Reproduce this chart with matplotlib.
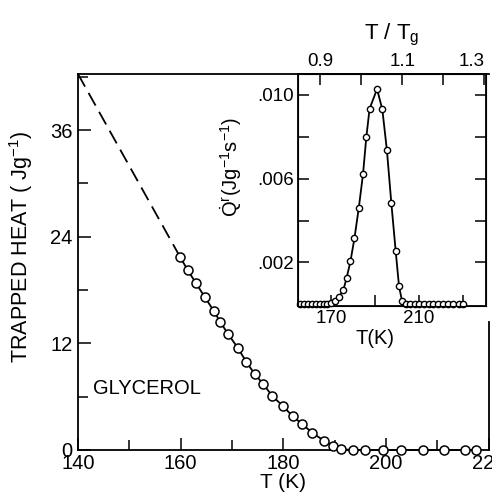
import numpy as np
import matplotlib.pyplot as plt
from matplotlib.ticker import MultipleLocator

plt.rcParams['font.family'] = ['Liberation Sans', 'DejaVu Sans']
plt.rcParams['mathtext.fontset'] = 'custom'
plt.rcParams['mathtext.rm'] = 'Liberation Sans'
plt.rcParams['mathtext.it'] = 'Liberation Sans'

# trapped heat vs temperature (main panel)
temp_main = [159.9, 161.4, 163.0, 164.7, 166.5, 167.7, 169.3, 171.1, 172.8, 174.4,
             176.1, 177.8, 179.9, 181.8, 183.7, 185.6, 188.0, 189.7, 191.2, 193.6,
             195.8, 199.4, 202.9, 207.1, 211.3, 215.3, 217.6]
heat_main = [21.7, 20.2, 18.75, 17.2, 15.6, 14.4, 13.0, 11.5, 9.9, 8.55,
             7.4, 6.1, 4.95, 3.8, 2.9, 1.95, 1.0, 0.45, 0.08, 0.0,
             0.0, 0.0, 0.0, 0.0, 0.0, 0.0, 0.0]
# dashed extrapolation to low temperature
temp_extrap = [140.0, 159.9]
heat_extrap = [42.3, 21.7]

# heat release rate (inset)
temp_inset = [155.8, 157.7, 159.5, 161.3, 163.2, 165.0, 166.8, 168.3, 169.9, 171.7,
              173.5, 175.6, 177.0, 178.8, 180.6, 182.6, 184.5, 186.0, 187.5, 190.9,
              193.3, 195.4, 197.4, 199.4, 200.9, 202.3, 203.9, 206.1, 208.0, 210.2,
              212.3, 214.4, 216.6, 218.7, 221.0, 223.4, 225.7, 228.0, 230.1]
rate_inset = [0.0, 0.0, 0.0, 0.0, 0.0, 0.0, 0.0, 0.0, 0.00006, 0.00015,
              0.00035, 0.0007, 0.00124, 0.00206, 0.00315, 0.00462, 0.00621, 0.00797, 0.00934, 0.01028,
              0.00931, 0.00735, 0.00484, 0.00253, 0.00087, 0.00015, 0.0, 0.0, 0.0, 0.0,
              0.0, 0.0, 0.0, 0.0, 0.0, 0.0, 0.0, 0.0, 0.0]

fig = plt.figure(figsize=(4.92, 4.99), dpi=100)
ax = fig.add_axes([0.1585, 0.0982, 0.835, 0.7535])

ax.plot(temp_extrap, heat_extrap, color='black', lw=1.3, dashes=(8, 4))
ax.plot(temp_main, heat_main, color='black', lw=1.3, marker='o', ms=6.5,
        mfc='white', mec='black', mew=1.1, clip_on=False, zorder=3)
ax.set_xlim(140, 220)
ax.set_ylim(0, 42.3)
ax.set_xticks([140, 160, 180, 200, 220])
ax.set_yticks([0, 12, 24, 36])
ax.xaxis.set_minor_locator(MultipleLocator(10))
ax.yaxis.set_minor_locator(MultipleLocator(6))
ax.tick_params(which='both', direction='in', top=False, right=False,
               labelsize=14.5, width=1.1)
ax.tick_params(which='major', length=9)
ax.tick_params(which='minor', length=7)
ax.tick_params(axis='y', pad=4)
ax.tick_params(axis='x', pad=3)
for s in ax.spines.values():
    s.set_linewidth(1.3)
ax.spines['right'].set_bounds(0, 14.4)
ax.set_xlabel('T (K)', fontsize=15, labelpad=0)
ax.set_ylabel('TRAPPED HEAT ( Jg$^{-1}$)', fontsize=15.5, labelpad=6)
ax.yaxis.set_label_coords(-0.105, 0.54)
ax.text(143, 5.8, 'GLYCEROL', fontsize=14.5, va='bottom')

# inset
axi = fig.add_axes([0.6057, 0.3868, 0.382, 0.4649])
axi.plot(temp_inset, rate_inset, color='black', lw=1.3, marker='o', ms=4.5,
         mfc='white', mec='black', mew=1.0, clip_on=False, zorder=3)
axi.set_xlim(154.9, 240.5)
axi.set_ylim(-0.00008, 0.011)
axi.set_xticks([170, 190, 210, 230])
axi.set_xticklabels(['170', '', '210', ''])
axi.set_yticks([0.002, 0.004, 0.006, 0.008, 0.010])
axi.set_yticklabels(['.002', '', '.006', '', '.010'])
axi.tick_params(direction='in', right=True, length=8, width=1.1, labelsize=13.5, pad=3)
for s in axi.spines.values():
    s.set_linewidth(1.3)
axi.set_xlabel('T(K)', fontsize=14.5, labelpad=1)
axi.xaxis.set_label_coords(0.41, -0.1)
axi.set_ylabel(r'$\dot{\mathrm{Q}}^{\mathrm{r}}$(Jg$^{-1}$s$^{-1}$)', fontsize=14.5, labelpad=2)
axi.yaxis.set_label_coords(-0.29, 0.6)

axt = axi.twiny()
axt.set_xlim(0.846, 1.304)
axt.set_xticks([0.9, 1.0, 1.1, 1.2, 1.3])
axt.set_xticklabels(['0.9', '', '1.1', '', '1.3'])
axt.tick_params(direction='in', length=8, width=1.1, labelsize=13.5, pad=3)
axt.get_xticklabels()[-1].set_horizontalalignment('right')
axt.set_xlabel('T / T$_\\mathrm{g}$', fontsize=16, labelpad=10)

fig.savefig('out.png', dpi=100)
